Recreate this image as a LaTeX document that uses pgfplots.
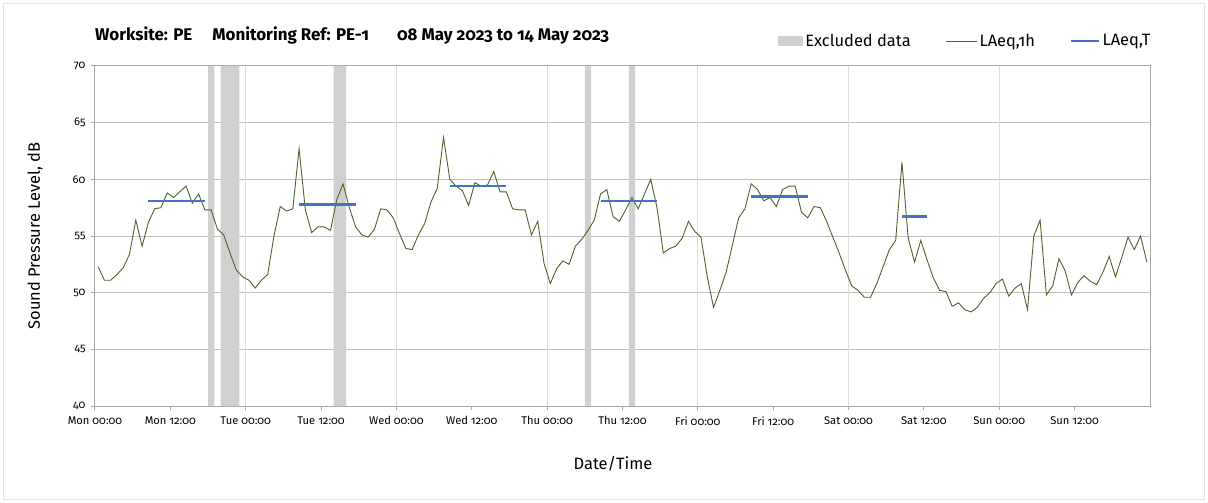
\documentclass[border=0pt]{standalone}
\usepackage{fontspec}
\setmainfont{Fira Sans}[Numbers=OldStyle]
\usepackage{pgfplots}
\pgfplotsset{compat=1.18}
\definecolor{excl}{HTML}{D0D0D0}
\definecolor{laeq}{HTML}{4F6228}
\definecolor{laeqt}{HTML}{4472C4}
\definecolor{gridh}{HTML}{BFBFBF}
\definecolor{gridv}{HTML}{DDDDDD}
\definecolor{axisc}{HTML}{A6A6A6}
\begin{document}
\begin{tikzpicture}
\path[use as bounding box] (-95bp,-97bp) rectangle (1113bp,406bp);
\draw[gray!22, line width=1bp] (-91bp,-93bp) rectangle (1109bp,402bp);
\node[anchor=base west, font=\fontseries{sb}\selectfont\fontsize{17}{20}\selectfont, inner sep=0pt] at (0bp,365bp)
  {Worksite: PE\hspace{20bp}Monitoring Ref: PE-1\hspace{28bp}08 May 2023 to 14 May 2023};
\begin{axis}[
  at={(0,0)}, anchor=south west,
  scale only axis, width=1055bp, height=340bp,
  xmin=0, xmax=168, ymin=40, ymax=70,
  xtick={0,12,...,156},
  xticklabels={Mon 00:00,Mon 12:00,Tue 00:00,Tue 12:00,Wed 00:00,Wed 12:00,Thu 00:00,Thu 12:00,Fri 00:00,Fri 12:00,Sat 00:00,Sat 12:00,Sun 00:00,Sun 12:00},
  ytick={40,45,...,70},
  ymajorgrids,
  major grid style={gridh, line width=1bp},
  extra x ticks={24,48,...,144},
  extra x tick labels={},
  extra x tick style={xmajorgrids=true, major grid style={gridv, line width=1bp}, major tick length=0pt},
  tick pos=left, tick align=outside, major tick length=4bp,
  tick style={axisc, line width=1bp},
  axis line style={axisc, line width=1bp},
  /pgf/number format/assume math mode=true,
  ticklabel style={font=\fontsize{11.2}{13}\selectfont},
  yticklabel style={xshift=-2bp},
  xticklabel style={yshift=-3bp},
  every axis y label/.style={at={(axis description cs:-0.0569,0.5)}, rotate=90, anchor=center},
  every axis x label/.style={at={(axis description cs:0.491,-0.1706)}, anchor=center},
  label style={font=\fontsize{16.5}{19}\selectfont},
  ylabel={Sound Pressure Level, dB},
  xlabel={Date/Time},
  legend columns=3,
  legend style={at={(0.6475,1.0735)}, anchor=west, draw=none, fill=none,
    font=\fontsize{16.5}{19}\selectfont, inner sep=0pt,
    /tikz/every even column/.append style={column sep=33bp}},
  legend cell align=left,
  clip=true,
]
\addplot[fill=excl, draw=none, legend image code/.code={\fill[excl] (0bp,-5bp) rectangle (25bp,5bp);}]
  coordinates {(18,40) (18,70) (19,70) (19,40)} \closedcycle;
\addlegendentry{Excluded data}
\addplot[fill=excl, draw=none, forget plot] coordinates {(20,40) (20,70) (23,70) (23,40)} \closedcycle;
\addplot[fill=excl, draw=none, forget plot] coordinates {(38,40) (38,70) (40,70) (40,40)} \closedcycle;
\addplot[fill=excl, draw=none, forget plot] coordinates {(78,40) (78,70) (79,70) (79,40)} \closedcycle;
\addplot[fill=excl, draw=none, forget plot] coordinates {(85,40) (85,70) (86,70) (86,40)} \closedcycle;
\addplot[laeq, line width=0.9bp, mark=none, legend image code/.code={\draw[laeq, line width=0.9bp] (0bp,0bp) -- (31bp,0bp);}] table {
x y
0.5 52.3
1.5 51.1
2.5 51.1
3.5 51.6
4.5 52.2
5.5 53.4
6.5 56.4
7.5 54.1
8.5 56.2
9.5 57.4
10.5 57.5
11.5 58.8
12.5 58.4
13.5 58.9
14.5 59.4
15.5 57.9
16.5 58.7
17.5 57.3
18.5 57.3
19.5 55.6
20.5 55.1
21.5 53.5
22.5 52.0
23.5 51.4
24.5 51.1
25.5 50.4
26.5 51.1
27.5 51.6
28.5 55.0
29.5 57.6
30.5 57.2
31.5 57.4
32.5 62.7
33.5 57.3
34.5 55.3
35.5 55.8
36.5 55.8
37.5 55.5
38.5 58.2
39.5 59.6
40.5 57.5
41.5 55.8
42.5 55.1
43.5 54.9
44.5 55.6
45.5 57.4
46.5 57.3
47.5 56.6
48.5 55.2
49.5 53.9
50.5 53.8
51.5 55.1
52.5 56.1
53.5 58.0
54.5 59.2
55.5 63.7
56.5 60.0
57.5 59.4
58.5 59.0
59.5 57.7
60.5 59.7
61.5 59.4
62.5 59.5
63.5 60.7
64.5 58.9
65.5 58.9
66.5 57.4
67.5 57.3
68.5 57.3
69.5 55.1
70.5 56.3
71.5 52.6
72.5 50.8
73.5 52.1
74.5 52.8
75.5 52.5
76.5 54.1
77.5 54.7
78.5 55.5
79.5 56.4
80.5 58.7
81.5 59.1
82.5 56.7
83.5 56.3
84.5 57.3
85.5 58.4
86.5 57.4
87.5 58.7
88.5 60.0
89.5 57.5
90.5 53.5
91.5 53.9
92.5 54.1
93.5 54.8
94.5 56.3
95.5 55.4
96.5 54.9
97.5 51.4
98.5 48.7
99.5 50.2
100.5 51.8
101.5 54.2
102.5 56.6
103.5 57.4
104.5 59.6
105.5 59.1
106.5 58.1
107.5 58.4
108.5 57.6
109.5 59.1
110.5 59.4
111.5 59.4
112.5 57.1
113.5 56.6
114.5 57.6
115.5 57.5
116.5 56.3
117.5 54.9
118.5 53.5
119.5 52.0
120.5 50.6
121.5 50.2
122.5 49.6
123.5 49.6
124.5 50.8
125.5 52.3
126.5 53.8
127.5 54.6
128.5 61.5
129.5 54.8
130.5 52.7
131.5 54.6
132.5 52.9
133.5 51.3
134.5 50.2
135.5 50.1
136.5 48.8
137.5 49.1
138.5 48.5
139.5 48.3
140.5 48.7
141.5 49.5
142.5 50.0
143.5 50.8
144.5 51.2
145.5 49.7
146.5 50.4
147.5 50.8
148.5 48.5
149.5 55.0
150.5 56.4
151.5 49.8
152.5 50.6
153.5 53.0
154.5 51.9
155.5 49.8
156.5 50.9
157.5 51.5
158.5 51.0
159.5 50.7
160.5 51.8
161.5 53.2
162.5 51.4
163.5 53.1
164.5 54.9
165.5 53.8
166.5 55.0
167.5 52.7
};
\addlegendentry{LAeq,1h}
\addplot[laeqt, line width=2.6bp, mark=none, unbounded coords=jump, legend image code/.code={\draw[laeqt, line width=2.6bp] (0bp,0bp) -- (28bp,0bp);}] coordinates {
(8.5,58.1) (17.5,58.1) (17.5,nan)
(32.5,57.8) (41.5,57.8) (41.5,nan)
(56.5,59.4) (65.5,59.4) (65.5,nan)
(80.5,58.1) (89.5,58.1) (89.5,nan)
(104.5,58.5) (113.5,58.5) (113.5,nan)
(128.5,56.7) (132.5,56.7)
};
\addlegendentry{LAeq,T}
\end{axis}
\end{tikzpicture}
\end{document}
